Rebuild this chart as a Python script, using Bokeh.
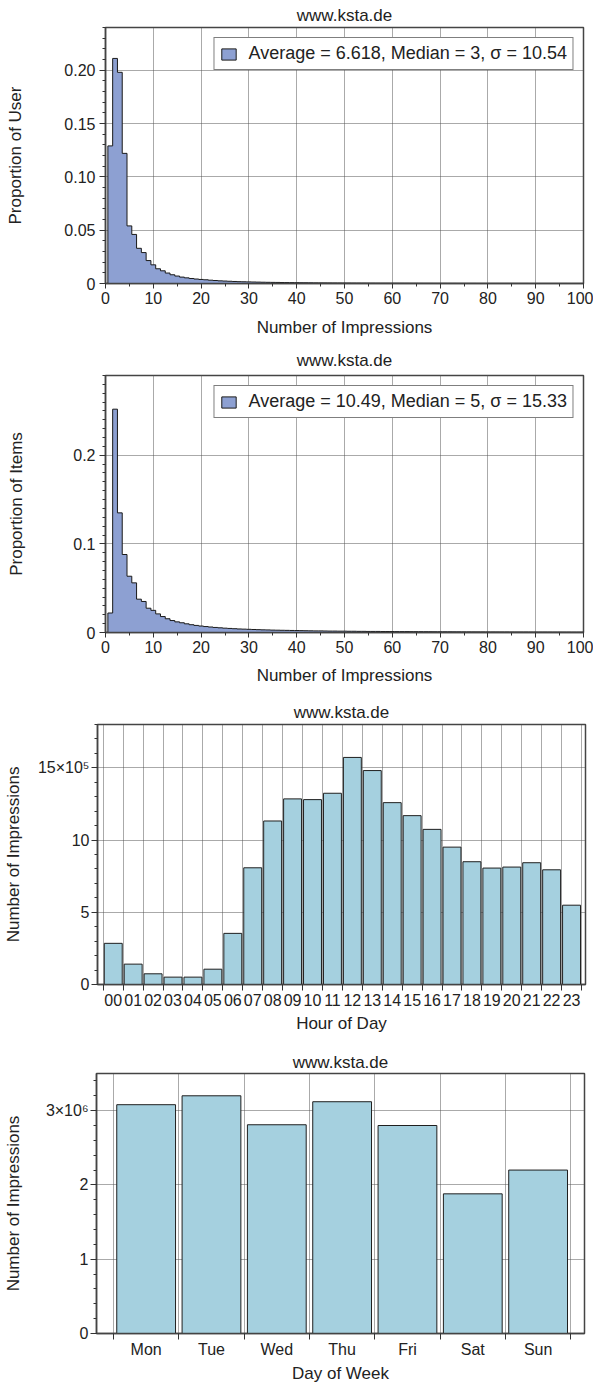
import numpy as np
from bokeh.plotting import figure
from bokeh.models import Range1d, FixedTicker, Legend, LegendItem
from bokeh.layouts import column
from bokeh.embed import file_html
from bokeh.resources import INLINE

FONT = "Liberation Sans"
HIST_FILL = "#8DA0D2"
BAR_FILL = "#A5D0DF"

# ---------------- data ----------------
site = "www.ksta.de"

impression_bins = list(range(1, 101))

user_prop = [
    0.129, 0.211, 0.198, 0.122, 0.054, 0.046, 0.033, 0.029, 0.0215, 0.0175,
    0.0138, 0.0119, 0.0098, 0.0082, 0.0070, 0.0060, 0.0053, 0.0047, 0.0042, 0.0038,
    0.0035, 0.0031, 0.0028, 0.0025, 0.0023, 0.0021, 0.0019, 0.0017, 0.0016, 0.0015,
    0.0014, 0.0013, 0.0012, 0.0011, 0.00105, 0.0010, 0.00092, 0.00086, 0.0008, 0.00075,
    0.0007, 0.00066, 0.00062, 0.00058, 0.00055, 0.00052, 0.00049, 0.00046, 0.00044, 0.00042,
    0.0004, 0.00038, 0.00036, 0.00034, 0.00033, 0.00031, 0.0003, 0.00029, 0.00028, 0.00027,
    0.00026, 0.00025, 0.00024, 0.00023, 0.00022, 0.00021, 0.0002, 0.0002, 0.00019, 0.00018,
    0.00018, 0.00017, 0.00017, 0.00016, 0.00016, 0.00015, 0.00015, 0.00014, 0.00014, 0.00013,
    0.00013, 0.00013, 0.00012, 0.00012, 0.00012, 0.00011, 0.00011, 0.00011, 0.0001, 0.0001,
    0.0001, 0.0001, 0.00009, 0.00009, 0.00009, 0.00009, 0.00008, 0.00008, 0.00008, 0.00008,
]

item_prop = [
    0.022, 0.252, 0.135, 0.088, 0.0635, 0.056, 0.0376, 0.035, 0.0274, 0.025,
    0.021, 0.018, 0.0155, 0.0135, 0.012, 0.011, 0.0098, 0.0088, 0.008, 0.0073,
    0.0067, 0.0062, 0.0057, 0.0053, 0.0049, 0.0046, 0.0043, 0.004, 0.0038, 0.0036,
    0.0034, 0.0032, 0.003, 0.0029, 0.0027, 0.0026, 0.0025, 0.0024, 0.0023, 0.0022,
    0.0021, 0.002, 0.0019, 0.0018, 0.0018, 0.0017, 0.0016, 0.0016, 0.0015, 0.0015,
    0.0014, 0.0014, 0.0013, 0.0013, 0.0012, 0.0012, 0.0012, 0.0011, 0.0011, 0.0011,
    0.001, 0.001, 0.001, 0.00095, 0.00092, 0.0009, 0.00087, 0.00085, 0.00082, 0.0008,
    0.00078, 0.00076, 0.00074, 0.00072, 0.0007, 0.00068, 0.00066, 0.00064, 0.00062, 0.0006,
    0.00059, 0.00058, 0.00056, 0.00055, 0.00054, 0.00052, 0.00051, 0.0005, 0.00049, 0.00048,
    0.00047, 0.00046, 0.00045, 0.00044, 0.00043, 0.00042, 0.00041, 0.0004, 0.0004, 0.00039,
]

user_legend = "Average = 6.618, Median = 3, \u03c3 = 10.54"
item_legend = "Average = 10.49, Median = 5, \u03c3 = 15.33"

hours = ["00", "01", "02", "03", "04", "05", "06", "07", "08", "09", "10", "11",
         "12", "13", "14", "15", "16", "17", "18", "19", "20", "21", "22", "23"]
hour_impressions = [
    285000, 141000, 74000, 51000, 51000, 106000, 354000, 808000, 1132000, 1285000, 1280000, 1324000,
    1572000, 1481000, 1259000, 1169000, 1074000, 951000, 850000, 806000, 813000, 843000, 794000, 549000,
]

days = ["Mon", "Tue", "Wed", "Thu", "Fri", "Sat", "Sun"]
day_impressions = [3080000, 3200000, 2810000, 3120000, 2800000, 1880000, 2200000]


# ---------------- helpers ----------------
def base_style(p, title_standoff):
    p.title.text = site
    p.title.align = "center"
    p.title.text_font = FONT
    p.title.text_font_size = "17px"
    p.title.text_font_style = "normal"
    p.title.text_color = "#222222"
    p.title.standoff = title_standoff
    p.outline_line_color = "#444444"
    p.outline_line_width = 1.5
    p.background_fill_color = "white"
    p.border_fill_color = "white"
    for ax in p.axis:
        ax.axis_line_color = "#444444"
        ax.axis_line_width = 1.5
        ax.major_tick_line_color = "#333333"
        ax.minor_tick_line_color = "#333333"
        ax.major_tick_in = 0
        ax.minor_tick_in = 0
        ax.axis_label_text_font = FONT
        ax.axis_label_text_font_size = "17px"
        ax.axis_label_text_font_style = "normal"
        ax.axis_label_text_color = "#222222"
        ax.major_label_text_font = FONT
        ax.major_label_text_color = "#222222"
    p.grid.grid_line_color = "#555555"
    p.grid.grid_line_dash = "1 1"
    p.grid.grid_line_width = 1


def step_outline(centers, vals):
    c = np.asarray(centers, dtype=float)
    v = np.asarray(vals, dtype=float)
    left = c - 0.5
    right = c + 0.5
    xs = np.column_stack([left, right]).ravel()
    ys = np.column_stack([v, v]).ravel()
    xs = np.concatenate([[left[0]], xs, [right[-1]]])
    ys = np.concatenate([[0.0], ys, [0.0]])
    return xs, ys


def hist_figure(vals, ymax, yticks, yminor, ylabels, ylabel, legend_text,
                top, frame_h, bottom, ylab_standoff, xlab_standoff, title_standoff):
    p = figure(frame_width=478, frame_height=frame_h,
               x_range=Range1d(0, 100), y_range=Range1d(0, ymax),
               output_backend="svg", toolbar_location=None,
               min_border_left=105, min_border_right=10,
               min_border_top=top, min_border_bottom=bottom,
               frame_align=False)
    xs, ys = step_outline(impression_bins, vals)
    r = p.patch(xs, ys, fill_color=HIST_FILL, line_color="#1a1a1a", line_width=1)
    base_style(p, title_standoff)
    p.xaxis.ticker = FixedTicker(ticks=list(range(0, 101, 10)),
                                 minor_ticks=list(range(5, 100, 10)))
    p.xgrid.ticker = FixedTicker(ticks=list(range(0, 101, 10)))
    p.xaxis.major_tick_out = 5
    p.xaxis.minor_tick_out = 3
    p.xaxis.major_label_text_font_size = "16px"
    p.xaxis.major_label_standoff = 3
    p.xaxis.axis_label = "Number of Impressions"
    p.xaxis.axis_label_standoff = xlab_standoff

    p.yaxis.ticker = FixedTicker(ticks=yticks, minor_ticks=yminor)
    p.ygrid.ticker = FixedTicker(ticks=yticks)
    p.yaxis.major_label_overrides = dict(zip(yticks, ylabels))
    p.yaxis.major_tick_out = 6
    p.yaxis.minor_tick_out = 3
    p.yaxis.major_label_text_font_size = "16px"
    p.yaxis.major_label_standoff = 4
    p.yaxis.axis_label = ylabel
    p.yaxis.axis_label_standoff = ylab_standoff

    leg = Legend(items=[LegendItem(label=legend_text, renderers=[r])],
                 location="top_right")
    leg.border_line_color = "black"
    leg.border_line_width = 1
    leg.background_fill_color = "white"
    leg.background_fill_alpha = 1
    leg.label_text_font = FONT
    leg.label_text_font_size = "18px"
    leg.label_text_color = "#222222"
    leg.label_height = 18
    leg.padding = 5
    leg.margin = 10
    leg.glyph_width = 18
    leg.glyph_height = 14
    leg.label_standoff = 11
    leg.spacing = 0
    p.add_layout(leg)
    return p


def bar_figure(labels, vals, ymax, yticks, yminor, ylabels, xlabel, xmin, xmax,
               top, bottom, ylab_standoff, title_standoff, xtick_standoff, xlab_standoff):
    n = len(labels)
    p = figure(frame_width=488, frame_height=260,
               x_range=Range1d(xmin, xmax), y_range=Range1d(0, ymax),
               output_backend="svg", toolbar_location=None,
               min_border_left=96, min_border_right=9,
               min_border_top=top, min_border_bottom=bottom,
               frame_align=False)
    centers = np.arange(n) + 0.5
    p.vbar(x=centers, top=vals, width=0.9, bottom=0,
           fill_color=BAR_FILL, line_color="#1f1f1f", line_width=1)
    base_style(p, title_standoff)
    p.xaxis.ticker = FixedTicker(ticks=[float(c) for c in centers],
                                 minor_ticks=list(range(n + 1)))
    p.xgrid.ticker = FixedTicker(ticks=list(range(n + 1)))
    p.xaxis.major_label_overrides = {float(c): lab for c, lab in zip(centers, labels)}
    p.xaxis.major_tick_out = 0
    p.xaxis.minor_tick_out = 6
    p.xaxis.major_label_text_font_size = "16px"
    p.xaxis.major_label_standoff = xtick_standoff
    p.xaxis.axis_label = xlabel
    p.xaxis.axis_label_standoff = xlab_standoff

    p.yaxis.ticker = FixedTicker(ticks=yticks, minor_ticks=yminor)
    p.ygrid.ticker = FixedTicker(ticks=yticks)
    p.yaxis.major_label_overrides = dict(zip(yticks, ylabels))
    p.yaxis.major_tick_out = 6
    p.yaxis.minor_tick_out = 3
    p.yaxis.major_label_text_font_size = "16px"
    p.yaxis.major_label_standoff = 2
    p.yaxis.axis_label = "Number of Impressions"
    p.yaxis.axis_label_standoff = ylab_standoff
    return p


p1 = hist_figure(user_prop, 0.24,
                 [0, 0.05, 0.1, 0.15, 0.2],
                 [round(v, 3) for v in np.arange(0, 0.2405, 0.01)],
                 ["0", "0.05", "0.10", "0.15", "0.20"],
                 "Proportion of User", user_legend,
                 top=27, frame_h=256, bottom=57,
                 ylab_standoff=36, xlab_standoff=11, title_standoff=6)

p2 = hist_figure(item_prop, 0.29,
                 [0, 0.1, 0.2],
                 [round(v, 3) for v in np.arange(0, 0.2905, 0.01)],
                 ["0", "0.1", "0.2"],
                 "Proportion of Items", item_legend,
                 top=35, frame_h=257, bottom=58,
                 ylab_standoff=44, xlab_standoff=10, title_standoff=11)

p3 = bar_figure(hours, hour_impressions, 1800000,
                [0, 500000, 1000000, 1500000],
                list(range(0, 1800001, 100000)),
                ["0", "5", "10", "15\u00d710\u2075"],
                "Hour of Day", -0.29, 24.2, top=34, bottom=53,
                ylab_standoff=12, title_standoff=5, xtick_standoff=3, xlab_standoff=5)

p4 = bar_figure(days, day_impressions, 3500000,
                [0, 1000000, 2000000, 3000000],
                list(range(0, 3500001, 200000)),
                ["0", "1", "2", "3\u00d710\u2076"],
                "Day of Week", -0.26, 7.21, top=36, bottom=50,
                ylab_standoff=20, title_standoff=4, xtick_standoff=1, xlab_standoff=3)

layout = column(p1, p2, p3, p4, spacing=0)
open("out.html", "w").write(file_html(layout, INLINE))
